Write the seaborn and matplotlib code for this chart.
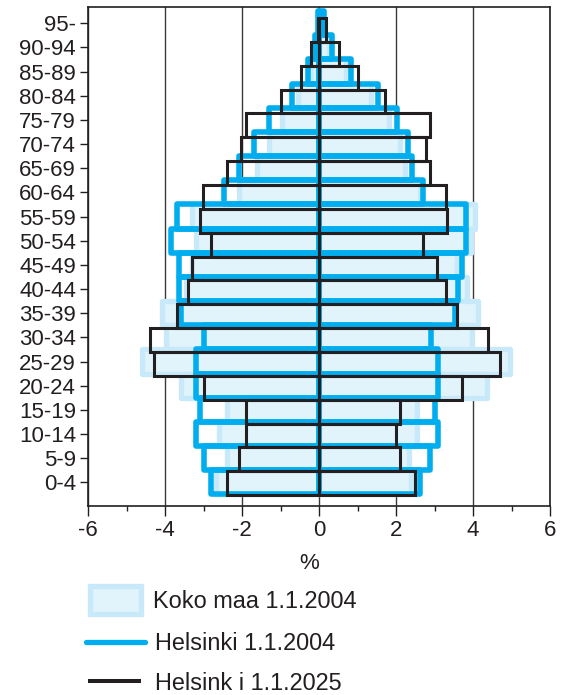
import matplotlib
matplotlib.use("Agg")
import matplotlib.pyplot as plt
import seaborn as sns
from matplotlib.patches import Patch
from matplotlib.lines import Line2D

# ---------------- data (percent of population) ----------------
ages = ["0-4", "5-9", "10-14", "15-19", "20-24", "25-29", "30-34", "35-39",
        "40-44", "45-49", "50-54", "55-59", "60-64", "65-69", "70-74",
        "75-79", "80-84", "85-89", "90-94", "95-"]

# Koko maa 1.1.2004 (light bars)
koko_men = [2.67, 2.39, 2.60, 2.39, 3.60, 4.60, 3.99, 4.08, 3.45, 3.30,
            3.20, 3.30, 2.09, 1.61, 1.31, 0.96, 0.55, 0.20, 0.08, 0.02]
koko_women = [2.40, 2.34, 2.55, 2.55, 4.35, 4.95, 3.97, 4.12, 3.85, 3.57,
              3.95, 4.04, 2.62, 2.23, 2.10, 1.82, 1.36, 0.71, 0.25, 0.05]

# Helsinki 1.1.2004 (blue outline)
hki04_men = [2.80, 2.99, 3.19, 3.09, 3.19, 3.19, 2.99, 3.58, 3.63, 3.63,
             3.84, 3.69, 2.48, 2.09, 1.70, 1.30, 0.71, 0.29, 0.10, 0.03]
hki04_women = [2.62, 2.88, 3.10, 3.00, 3.10, 3.10, 2.92, 3.54, 3.62, 3.71,
               3.81, 3.81, 2.71, 2.41, 2.32, 2.02, 1.54, 0.83, 0.34, 0.12]

# Helsinki 1.1.2025 (black outline)
hki25_men = [2.39, 2.09, 1.89, 1.89, 2.99, 4.29, 4.40, 3.69, 3.40, 3.30,
             2.81, 3.10, 3.01, 2.39, 2.02, 1.91, 1.00, 0.48, 0.20, 0.03]
hki25_women = [2.49, 2.10, 1.99, 2.10, 3.70, 4.69, 4.39, 3.57, 3.29, 3.07,
               2.70, 3.31, 3.29, 2.88, 2.79, 2.88, 1.71, 1.00, 0.51, 0.19]

x_ticks = [-6, -4, -2, 0, 2, 4, 6]
x_tick_labels = ["-6", "-4", "-2", "0", "2", "4", "6"]
x_minor = [-5, -3, -1, 1, 3, 5]

legend_labels = ["Koko maa 1.1.2004", "Helsinki 1.1.2004", "Helsink i 1.1.2025"]

# ---------------- style ----------------
sns.set_style("ticks")
plt.rcParams["font.family"] = ["Liberation Sans", "DejaVu Sans"]
plt.rcParams["axes.unicode_minus"] = False

INK = "#231f20"
BLUE = "#00aeef"
LIGHT_FACE = "#e1f3fb"
LIGHT_EDGE = "#c8e9f9"

order = ages[::-1]

fig = plt.figure(figsize=(5.61, 6.95), dpi=100)
ax = fig.add_axes([88.3 / 561, 1 - 506 / 695, (550 - 88.3) / 561, (506 - 7.3) / 695])


def draw(axis, values, face, edge, lw, join):
    n0 = len(axis.patches)
    sns.barplot(x=values, y=ages, order=order, orient="h", width=1.0,
                errorbar=None, color=edge, saturation=1, ax=axis)
    for p in axis.patches[n0:]:
        p.set_facecolor(face)
        p.set_edgecolor(edge)
        p.set_linewidth(lw)
        p.set_joinstyle(join)


# light (Koko maa)
draw(ax, [-v for v in koko_men], LIGHT_FACE, LIGHT_EDGE, 3.8, "round")
draw(ax, koko_women, LIGHT_FACE, LIGHT_EDGE, 3.8, "round")
# blue (Helsinki 2004)
draw(ax, [-v for v in hki04_men], "none", BLUE, 4.0, "round")
draw(ax, hki04_women, "none", BLUE, 4.0, "round")

# black (Helsinki 2025) on a twin axis (slightly different row spacing)
ax2 = ax.twinx()
draw(ax2, [-v for v in hki25_men], "none", INK, 2.2, "miter")
draw(ax2, hki25_women, "none", INK, 2.2, "miter")

# ---------------- axes formatting ----------------
ax.set_xlim(-6, 6)
ax.set_ylim(19.98, -0.66)
ax2.set_ylim(19.955, -0.951)
ax2.set_yticks([])
ax2.set_ylabel("")
for s in ax2.spines.values():
    s.set_visible(False)

ax.set_xticks(x_ticks)
ax.set_xticklabels(x_tick_labels)
ax.set_xticks(x_minor, minor=True)
ax.set_yticks(range(len(order)))
ax.set_yticklabels(order)

ax.grid(axis="x", which="major", color="#3a3a3a", linewidth=1.0)
ax.set_axisbelow(True)

for s in ax.spines.values():
    s.set_color(INK)
    s.set_linewidth(1.2)

ax.tick_params(axis="x", which="major", length=7.2, width=1.0, color=INK,
               labelsize=16, labelcolor=INK, pad=3)
ax.tick_params(axis="x", which="minor", length=3.6, width=1.0, color=INK)
ax.tick_params(axis="y", which="major", length=5.8, width=1.0, color=INK,
               labelsize=16, labelcolor=INK, pad=3)

ax.set_ylabel("")
ax.set_xlabel("%", fontsize=16, color=INK)
ax.xaxis.set_label_coords(0.478, -0.094)

# ---------------- legend ----------------
fs = 16.9
h1 = Patch(facecolor=LIGHT_FACE, edgecolor=LIGHT_EDGE, linewidth=3.8, joinstyle="round")
h2 = Line2D([], [], color=BLUE, linewidth=3.8, solid_capstyle="round")
h3 = Line2D([], [], color=INK, linewidth=2.9, solid_capstyle="butt")

common = dict(loc="center left", frameon=False, borderpad=0, borderaxespad=0,
              fontsize=fs, labelcolor=INK)
fig.legend([h1], [legend_labels[0]], bbox_to_anchor=(89.5 / 561, 1 - 600 / 695),
           handlelength=2.2, handleheight=1.45, handletextpad=0.52, **common)
fig.legend([h2], [legend_labels[1]], bbox_to_anchor=(86.5 / 561, 1 - 644 / 695),
           handlelength=2.5, handletextpad=0.41, **common)
fig.legend([h3], [legend_labels[2]], bbox_to_anchor=(88.0 / 561, 1 - 683 / 695),
           handlelength=2.25, handletextpad=0.6, **common)

fig.savefig("out.png", dpi=100)
